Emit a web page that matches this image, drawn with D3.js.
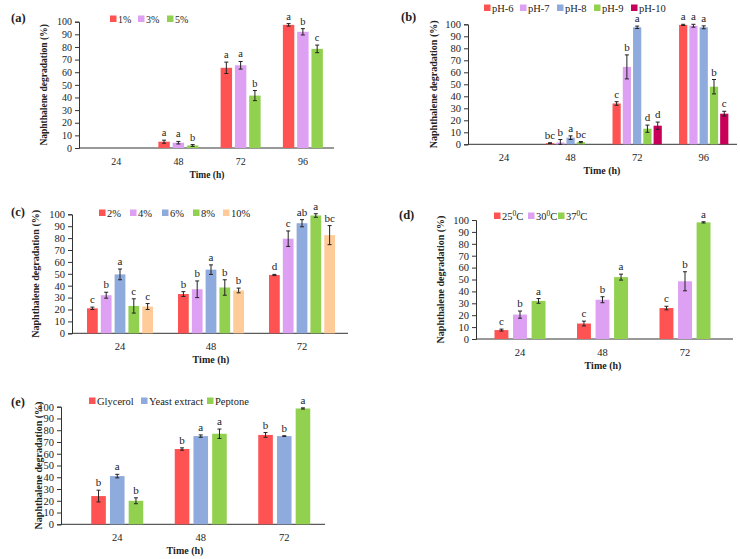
<!DOCTYPE html>
<html><head><meta charset="utf-8">
<script src="https://cdn.jsdelivr.net/npm/d3@7"></script>
<style>body{margin:0;background:#fff}svg{display:block}text{font-family:"Liberation Serif","Times New Roman",serif;fill:#222}</style>
</head><body>
<svg id="c" width="740" height="559"></svg>
<script>
// ---------- DATA ----------
const timesA = ["24","48","72","96"];
const seriesA = ["1%","3%","5%"];
const valuesA = [[0,5,63.5,97.5],[0,4.2,65.5,92],[0,2,41.5,78.5]];
const errorsA = [[0,1.2,4.5,1],[0,1,3,2.5],[0,0.7,4,3]];
const lettersA = [["","a","a","a"],["","a","a","b"],["","b","b","c"]];

const timesB = ["24","48","72","96"];
const seriesB = ["pH-6","pH-7","pH-8","pH-9","pH-10"];
const valuesB = [[0,1,34,99.5],[0,1.5,64.5,98.8],[0,5.5,97.5,97.5],[0,1.8,13,48],[0,0,15.5,25.5]];
const errorsB = [[0,0.3,1.5,0.5],[0,2.5,10,1.2],[0,1.5,1,1.2],[0,0.5,3,6],[0,0,3,2]];
const lettersB = [["","bc","c","a"],["","b","b","a"],["","a","a","a"],["","bc","d","b"],["","","d","c"]];

const timesC = ["24","48","72"];
const seriesC = ["2%","4%","6%","8%","10%"];
const valuesC = [[21,33,49],[32,37,79.5],[49.5,53.5,92.5],[23,38.5,99],[22.5,36,82.5]];
const errorsC = [[1,2,0.5],[2.5,7,6.5],[4.5,4,3],[6,6.5,1.5],[2.5,2,8]];
const lettersC = [["c","b","d"],["b","b","c"],["a","a","ab"],["c","b","a"],["c","b","bc"]];

const timesD = ["24","48","72"];
const seriesD = ["25","30","37"]; // °C
const valuesD = [[7.5,13,26],[20.5,33,48.5],[32,52,98]];
const errorsD = [[0.8,2,1.5],[3,2.5,8],[2,2.5,0.5]];
const lettersD = [["c","c","c"],["b","b","b"],["a","a","a"]];

const timesE = ["24","48","72"];
const seriesE = ["Glycerol","Yeast extract","Peptone"];
const valuesE = [[24,64,76],[41,75,75],[20,77,98.5]];
const errorsE = [[5,1,2],[1.5,1,0.3],[2.5,4,0.5]];
const lettersE = [["b","b","b"],["a","a","b"],["b","a","a"]];

const yTicks = [0,10,20,30,40,50,60,70,80,90,100];

// ---------- COLORS ----------
const RED="#FF5252", LIL="#DDA0F2", BLU="#8FAADC", GRN="#92D050", MAG="#C8005A", PEA="#FFCC99";

// ---------- LAYOUT ----------
const panels = [
 {tag:"(a)", tagX:11, tagY:22, times:timesA, series:seriesA, vals:valuesA, errs:errorsA, lets:lettersA,
  colors:[RED,LIL,GRN], axisX:79, axisEnd:334, bandRange:[85,334], y0:148, y100:21.7, group:40, pad:0.2,
  ylabX:47, legY:19, legX:[110,138,167], xlabX:207, fs:0.95},
 {tag:"(b)", tagX:401, tagY:21, times:timesB, series:seriesB, vals:valuesB, errs:errorsB, lets:lettersB,
  colors:[RED,LIL,BLU,GRN,MAG], axisX:468, axisEnd:737, bandRange:[470.75,737], y0:144.3, y100:24.3, group:49.3, pad:0.2,
  ylabX:437, legY:8, legX:[484,520,557,594,631], xlabX:602, fs:1},
 {tag:"(c)", tagX:11, tagY:216, times:timesC, series:seriesC, vals:valuesC, errs:errorsC, lets:lettersC,
  colors:[RED,LIL,BLU,GRN,PEA], axisX:72, axisEnd:348, bandRange:[74.5,347.5], y0:333.3, y100:214.3, group:66, pad:0.22,
  ylabX:39, legY:213, legX:[99,130,162,193,223], xlabX:211, fs:1},
 {tag:"(d)", tagX:399, tagY:219, times:timesD, series:seriesD, vals:valuesD, errs:errorsD, lets:lettersD,
  colors:[RED,LIL,GRN], axisX:476, axisEnd:733, bandRange:[478.75,726.25], y0:339, y100:220, group:51, pad:0.25,
  ylabX:444, legY:216, legX:[494,528,558], xlabX:603, degree:true, fs:1},
 {tag:"(e)", tagX:11, tagY:406, times:timesE, series:seriesE, vals:valuesE, errs:errorsE, lets:lettersE,
  colors:[RED,BLU,GRN], axisX:61, axisEnd:325, bandRange:[75.5,326], y0:524.3, y100:406.7, group:52, pad:0.22,
  ylabX:42, legY:401, legX:[89,141,207], xlabX:185, fs:1}
];

const svg = d3.select("#c");

panels.forEach(p => {
  const f = p.fs;
  const g = svg.append("g");
  const y = d3.scaleLinear().domain([0,100]).range([p.y0,p.y100]);
  const x = d3.scaleBand().domain(p.times).range(p.bandRange);
  const xs = d3.scaleBand().domain(p.series).range([-p.group/2,p.group/2]).paddingInner(p.pad);

  // y axis
  const ya = d3.axisLeft(y).tickValues(yTicks).tickSize(4).tickPadding(3).tickFormat(d3.format("d"));
  const yg = g.append("g").attr("transform",`translate(${p.axisX},0)`).call(ya);
  yg.select(".domain").attr("stroke","#333").attr("stroke-width",1);
  yg.selectAll(".tick line").attr("stroke","#333");
  yg.selectAll(".tick text").style("font-size",(10.5*f)+"px").attr("fill","#222");

  // x axis line
  g.append("line").attr("x1",p.axisX).attr("x2",p.axisEnd).attr("y1",p.y0).attr("y2",p.y0)
    .attr("stroke","#333").attr("stroke-width",1);
  g.selectAll("text.xt").data(p.times).enter().append("text").attr("class","xt")
    .attr("x",d=>x(d)+x.bandwidth()/2).attr("y",p.y0+16.5).attr("text-anchor","middle")
    .style("font-size",(10.5*f)+"px").text(d=>d);

  // bars
  p.series.forEach((s,si) => {
    const color = p.colors[si];
    p.times.forEach((t,ti) => {
      const v = p.vals[si][ti], e = p.errs[si][ti];
      const cx = x(t)+x.bandwidth()/2 + xs(s);
      const bw = xs.bandwidth();
      if (v > 0) {
        g.append("rect").attr("x",cx).attr("y",y(v)).attr("width",bw).attr("height",p.y0-y(v))
          .attr("fill",color);
      }
      const mx = cx + bw/2;
      if (e > 0) {
        const eg = g.append("g").attr("stroke","#222").attr("stroke-width",1);
        eg.append("line").attr("x1",mx).attr("x2",mx).attr("y1",y(v+e)).attr("y2",y(Math.max(0,v-e)));
        eg.append("line").attr("x1",mx-2).attr("x2",mx+2).attr("y1",y(v+e)).attr("y2",y(v+e));
        eg.append("line").attr("x1",mx-2).attr("x2",mx+2).attr("y1",y(Math.max(0,v-e))).attr("y2",y(Math.max(0,v-e)));
      }
      const L = p.lets[si][ti];
      if (L) {
        g.append("text").attr("x",mx).attr("y",y(v+e)-4).attr("text-anchor","middle")
          .style("font-size",(11*f)+"px").text(L);
      }
    });
  });

  // labels
  g.append("text").attr("x",p.tagX).attr("y",p.tagY).style("font-size","12.5px").attr("font-weight","bold").text(p.tag);
  g.append("text").attr("transform",`translate(${p.ylabX},${(p.y0+p.y100)/2}) rotate(-90)`)
    .attr("text-anchor","middle").style("font-size",(10*f)+"px").attr("font-weight","bold").text("Naphthalene degradation (%)");
  g.append("text").attr("x",p.xlabX).attr("y",p.y0+30).attr("text-anchor","middle")
    .style("font-size",(10*f)+"px").attr("font-weight","bold").text("Time (h)");

  // legend
  p.series.forEach((s,si) => {
    const lx = p.legX[si];
    g.append("rect").attr("x",lx).attr("y",p.legY-3.5).attr("width",6.5).attr("height",6.5).attr("fill",p.colors[si]);
    const t = g.append("text").attr("x",lx+8).attr("y",p.legY+4).style("font-size",(10.5*f)+"px");
    if (p.degree) {
      t.append("tspan").text(s);
      t.append("tspan").style("font-size","7.5px").attr("dy",-4).text("0");
      t.append("tspan").attr("dy",4).text("C");
    } else t.text(s);
  });
});
</script>
</body></html>
